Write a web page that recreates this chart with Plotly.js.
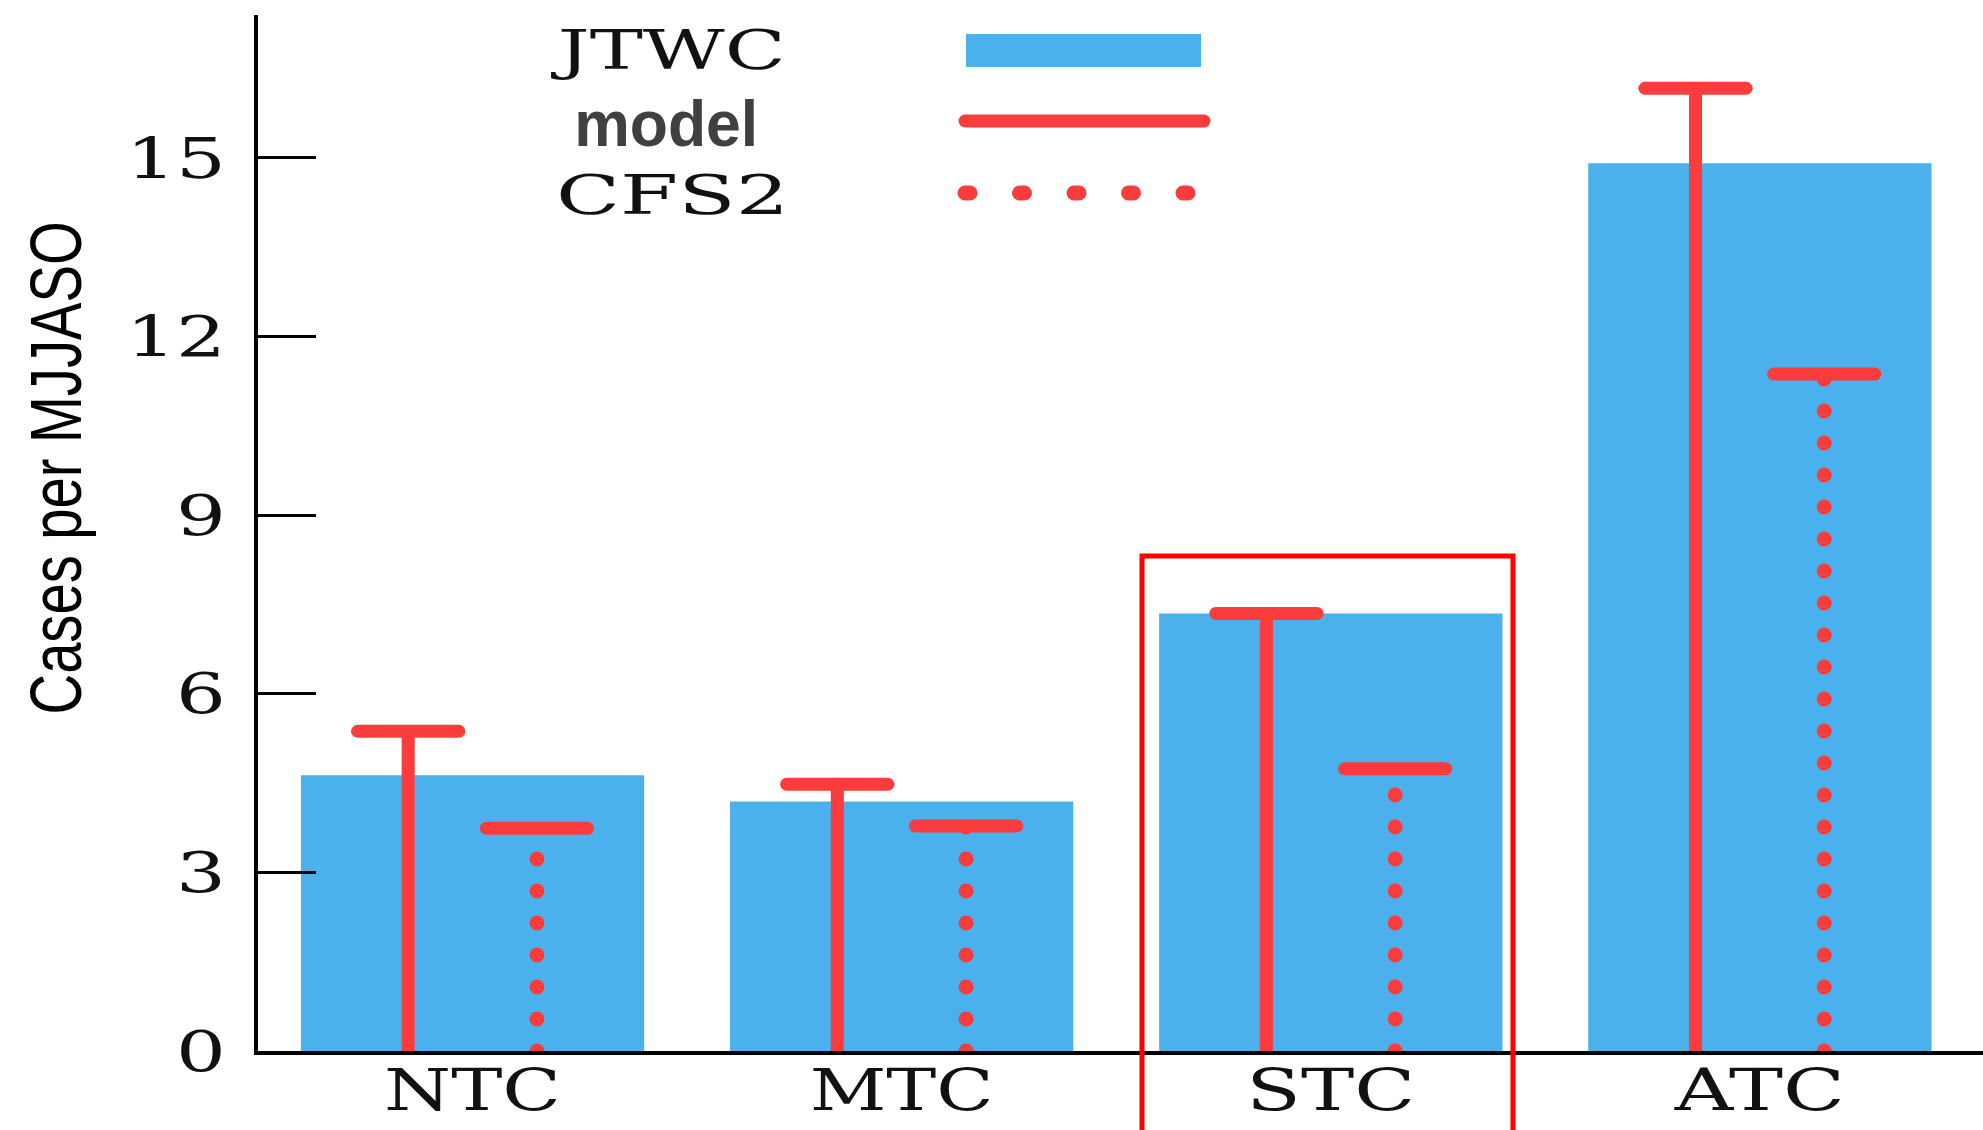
<!DOCTYPE html>
<html>
<head>
<meta charset="utf-8">
<script src="https://cdn.plot.ly/plotly-3.0.1.min.js"></script>
<style>
html, body { margin: 0; padding: 0; background: #ffffff; }
#chart { width: 1983px; height: 1130px; }
.scatterlayer .js-line { stroke-linecap: round; }
.shapelayer path { stroke-linecap: round; }
</style>
</head>
<body>
<div id="chart"></div>
<script>
// ---- data ----
const categories = ['NTC', 'MTC', 'STC', 'ATC'];
const jtwc  = [4.63, 4.19, 7.35, 14.91];
const model = [5.37, 4.48, 7.35, 16.17];
const cfs2  = [3.74, 3.78, 4.74, 11.37];
const yTicks = [0, 3, 6, 9, 12, 15];
const legendLabels = ['JTWC', 'model', 'CFS2'];
const yTitle = 'Cases per MJJASO';

// ---- styling ----
const BLUE = '#4ab1ed';
const RED = '#fa3c3c';
const OFF = 0.15;     // offset of model / CFS2 stems from category centre
const CAP = 0.118;    // half-width of cap
// rendered text widths (px) to imitate the reference's wide serif face
const xLabelWidths = [177, 184, 169, 170];
const legendWidths = [228, 0, 233];

const idx = categories.map((c, i) => i);

function stems(vals, off) {
  const x = [], y = [];
  vals.forEach((v, i) => { x.push(i + off, i + off, null); y.push(0, v, null); });
  return {x, y};
}
function caps(vals, off) {
  const x = [], y = [];
  vals.forEach((v, i) => { x.push(i + off - CAP, i + off + CAP, null); y.push(v, v, null); });
  return {x, y};
}

const ms = stems(model, -OFF), mc = caps(model, -OFF);
const cs = stems(cfs2, OFF), cc = caps(cfs2, OFF);

const traces = [
  { type: 'bar', name: legendLabels[0], x: idx, y: jtwc, width: 0.8,
    marker: { color: BLUE, line: { width: 0 } }, hoverinfo: 'skip' },
  { type: 'scatter', mode: 'lines', name: legendLabels[1], x: ms.x, y: ms.y,
    line: { color: RED, width: 13 }, hoverinfo: 'skip' },
  { type: 'scatter', mode: 'lines', x: mc.x, y: mc.y,
    line: { color: RED, width: 13 }, hoverinfo: 'skip' },
  { type: 'scatter', mode: 'lines', name: legendLabels[2], x: cs.x, y: cs.y,
    line: { color: RED, width: 15, dash: '0px,32px' }, hoverinfo: 'skip' },
  { type: 'scatter', mode: 'lines', x: cc.x, y: cc.y,
    line: { color: RED, width: 13 }, hoverinfo: 'skip' }
];

// paper-coordinate helpers (plot area: left 258, top 15, bottom 1051, right 1983)
const L = 258, T = 15, B = 1051, W = 1983 - 258, H = B - T;
const PX = p => (p - L) / W;
const PY = p => (B - p) / H;

const layout = {
  width: 1983, height: 1130,
  margin: { l: L, r: 0, t: T, b: 1130 - B, pad: 0 },
  paper_bgcolor: '#ffffff', plot_bgcolor: '#ffffff',
  showlegend: false,
  xaxis: {
    range: [-0.5, 3.52],
    tickmode: 'array', tickvals: idx, ticktext: categories,
    ticks: '', showgrid: false, zeroline: false,
    showline: true, linecolor: '#000000', linewidth: 4,
    tickfont: { family: 'DejaVu Serif', size: 58, color: '#111111' },
    ticklabelstandoff: -15,
    fixedrange: true
  },
  yaxis: {
    range: [0, 17.4],
    tickmode: 'array', tickvals: yTicks, ticktext: yTicks.map(String),
    ticks: 'inside', ticklen: 58, tickwidth: 3, tickcolor: '#000000',
    showgrid: false, zeroline: false,
    showline: true, linecolor: '#000000', linewidth: 4,
    tickfont: { family: 'DejaVu Serif', size: 56, color: '#111111' },
    ticklabelstandoff: 17,
    fixedrange: true
  },
  shapes: [
    // legend symbols
    { type: 'rect', xref: 'paper', yref: 'paper', x0: PX(966), x1: PX(1201), y0: PY(67), y1: PY(34),
      fillcolor: BLUE, line: { width: 0 } },
    { type: 'line', xref: 'paper', yref: 'paper', x0: PX(965), x1: PX(1204), y0: PY(121), y1: PY(121),
      line: { color: RED, width: 13 } },
    { type: 'line', xref: 'paper', yref: 'paper', x0: PX(965), x1: PX(1190), y0: PY(193), y1: PY(193),
      line: { color: RED, width: 15, dash: '5px,49.5px' } },
    // highlight box round STC
    { type: 'rect', xref: 'paper', yref: 'paper', x0: PX(1142), x1: PX(1513), y0: PY(1145), y1: PY(556),
      line: { color: '#ff0000', width: 5 }, fillcolor: 'rgba(0,0,0,0)' }
  ],
  annotations: [
    { xref: 'paper', yref: 'paper', x: PX(669), y: PY(50), xanchor: 'center', yanchor: 'middle',
      text: legendLabels[0], showarrow: false,
      font: { family: 'DejaVu Serif', size: 55, color: '#111111' } },
    { xref: 'paper', yref: 'paper', x: PX(570), y: PY(124), xanchor: 'left', yanchor: 'middle',
      text: '<b>' + legendLabels[1] + '</b>', showarrow: false,
      font: { family: 'Liberation Sans', size: 64, color: '#404040' } },
    { xref: 'paper', yref: 'paper', x: PX(672), y: PY(195), xanchor: 'center', yanchor: 'middle',
      text: legendLabels[2], showarrow: false,
      font: { family: 'DejaVu Serif', size: 55, color: '#111111' } },
    // y-axis title
    { xref: 'paper', yref: 'paper', x: PX(56), y: PY(468), xanchor: 'center', yanchor: 'middle',
      textangle: -90, text: yTitle, showarrow: false,
      font: { family: 'Liberation Sans', size: 72, color: '#000000' } }
  ]
};

function stretchBy(el, factor) {
  const w = el.getComputedTextLength();
  el.setAttribute('textLength', (w * factor).toFixed(1));
  el.setAttribute('lengthAdjust', 'spacingAndGlyphs');
}
function stretchTo(el, len) {
  el.setAttribute('textLength', String(len));
  el.setAttribute('lengthAdjust', 'spacingAndGlyphs');
}

Plotly.newPlot('chart', traces, layout, { displayModeBar: false, staticPlot: true }).then(() => {
  // the reference uses a wide, horizontally stretched serif face
  document.querySelectorAll('.xtick text').forEach(t => {
    const i = categories.indexOf(t.textContent);
    if (i >= 0) stretchTo(t, xLabelWidths[i]); else stretchBy(t, 1.4);
  });
  document.querySelectorAll('.ytick text').forEach(t => stretchBy(t, 1.4));
  document.querySelectorAll('.annotation-text').forEach(t => {
    const s = t.textContent;
    if (s === legendLabels[0]) stretchTo(t, legendWidths[0]);
    else if (s === legendLabels[2]) stretchTo(t, legendWidths[2]);
    else if (s === legendLabels[1]) stretchTo(t, 184);
    else if (s === yTitle) stretchTo(t, 493);
  });
});
</script>
</body>
</html>
